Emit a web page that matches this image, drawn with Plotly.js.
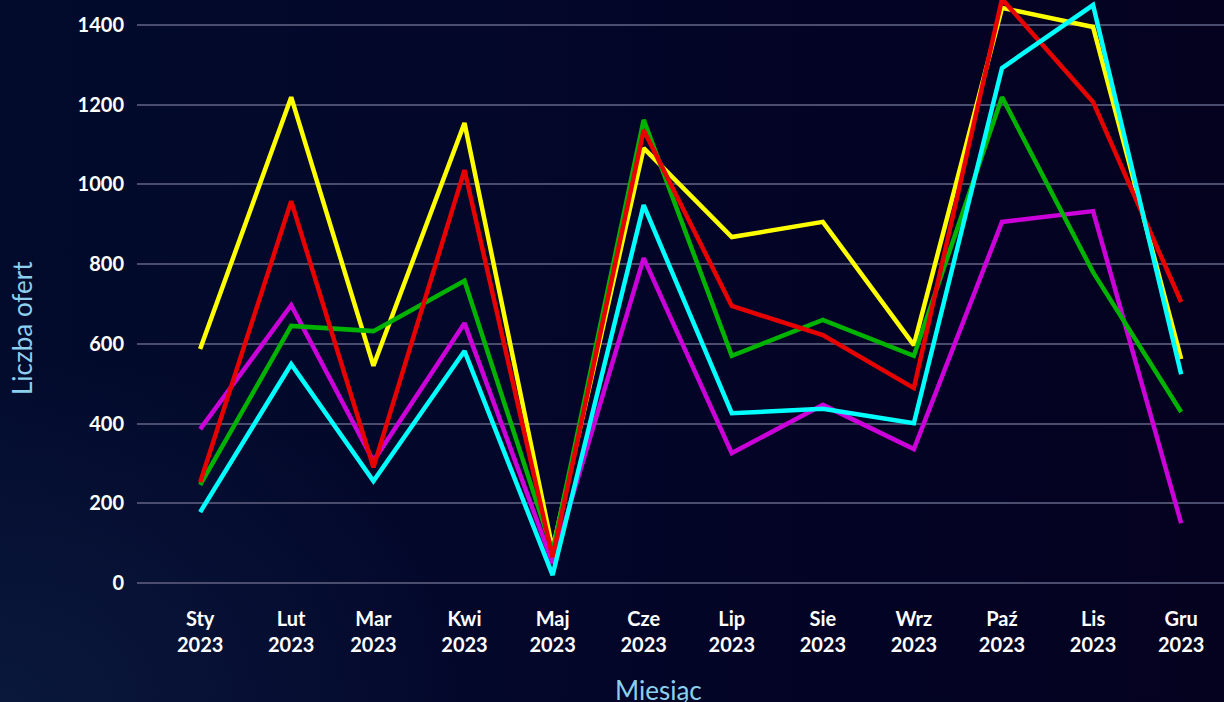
<!DOCTYPE html>
<html>
<head>
<meta charset="utf-8">
<script src="https://cdn.plot.ly/plotly-3.0.1.min.js"></script>
<style>
html,body{margin:0;padding:0;width:1224px;height:702px;overflow:hidden;}
body{background:
 radial-gradient(ellipse 700px 500px at 0% 100%, rgba(20,40,80,0.45), rgba(20,40,80,0) 70%),
 linear-gradient(90deg,#020b2c 0%,#03072a 40%,#030325 70%,#04021f 100%);}
#chart{width:1224px;height:702px;}
</style>
</head>
<body>
<div id="chart"></div>
<script>
const months = ['2023-01-01','2023-02-01','2023-03-01','2023-04-01','2023-05-01','2023-06-01','2023-07-01','2023-08-01','2023-09-01','2023-10-01','2023-11-01','2023-12-01'];
const tickLabels = ['Sty<br>2023','Lut<br>2023','Mar<br>2023','Kwi<br>2023','Maj<br>2023','Cze<br>2023','Lip<br>2023','Sie<br>2023','Wrz<br>2023','Paź<br>2023','Lis<br>2023','Gru<br>2023'];
const yTicks = [0,200,400,600,800,1000,1200,1400];

const yellowVals  = [587,1219,545,1154,85,1091,868,906,597,1443,1395,562];
const magentaVals = [386,697,306,652,50,815,326,447,336,906,933,150];
const greenVals   = [246,645,632,758,80,1162,570,660,570,1219,780,429];
const redVals     = [253,958,290,1036,65,1136,695,622,489,1465,1207,705];
const cyanVals    = [178,549,256,582,20,948,426,437,401,1292,1450,524];

const seriesNames  = ['Seria 1','Seria 2','Seria 3','Seria 4','Seria 5'];
const seriesColors = ['#ffff00','#cc00d9','#00b300','#e60000','#00ffff'];
const seriesVals   = [yellowVals, magentaVals, greenVals, redVals, cyanVals];

const traces = seriesVals.map((v,i)=>({
  x: months, y: v, type:'scatter', mode:'lines', name: seriesNames[i],
  line:{color: seriesColors[i], width:4.5}, hoverinfo:'x+y'
}));

const fontFam = 'Lato, "Open Sans", sans-serif';
const layout = {
  width:1224, height:702,
  paper_bgcolor:'rgba(0,0,0,0)', plot_bgcolor:'rgba(0,0,0,0)',
  margin:{l:137, r:0, t:0, b:107},
  showlegend:false,
  xaxis:{
    type:'date',
    range:['2022-12-10 12:00','2023-12-15 14:00'],
    tickmode:'array', tickvals: months, ticktext: tickLabels,
    showgrid:false, zeroline:false, showline:false,
    ticks:'outside', ticklen:6, tickcolor:'rgba(0,0,0,0)',
    tickfont:{family:fontFam, size:20, color:'#ffffff', weight:'bold'}
  },
  yaxis:{
    range:[-30,1462.7],
    tickmode:'array', tickvals: yTicks,
    showgrid:true, gridcolor:'#4b4d6e', gridwidth:1.6,
    zeroline:true, zerolinecolor:'#4b4d6e', zerolinewidth:1.6,
    showline:false,
    ticks:'outside', ticklen:8, tickcolor:'rgba(0,0,0,0)',
    tickfont:{family:fontFam, size:20, color:'#ffffff', weight:'bold'}
  },
  annotations:[
    {text:'Miesiąc', xref:'paper', yref:'paper', x:(658-137)/1087, y:(702-107-690)/595,
     showarrow:false, xanchor:'center', yanchor:'middle',
     font:{family:fontFam, size:26, color:'#8ccfee'}},
    {text:'Liczba ofert', xref:'paper', yref:'paper', x:(22-137)/1087, y:(595-328)/595,
     showarrow:false, xanchor:'center', yanchor:'middle', textangle:-90,
     font:{family:fontFam, size:26, color:'#8ccfee'}}
  ]
};
Plotly.newPlot('chart', traces, layout, {displayModeBar:false, responsive:false});
</script>
</body>
</html>
